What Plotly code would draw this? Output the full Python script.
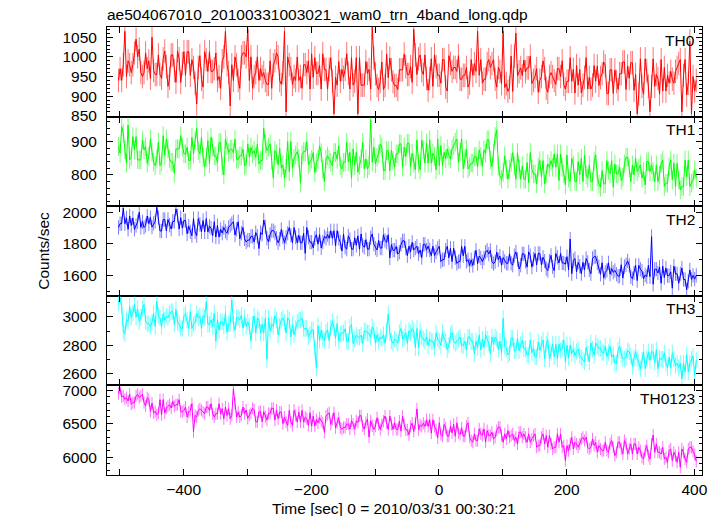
import numpy as np
import plotly.graph_objects as go
from plotly.subplots import make_subplots

# light-curve bins: start time and bin width (sec), 0 = 2010/03/31 00:30:21
t_start = -502.0
t_bin = 2.5

th0 = [940, 970, 940, 980, 1065, 950, 990, 980, 960, 980, 1010, 1045, 1000, 1020, 960, 950, 960, 1010, 970, 990,
       945, 1050, 965, 955, 955, 1005, 955, 945, 995, 1015, 975, 925, 945, 1005, 1005, 965, 935, 1015, 995, 935,
       983, 1013, 953, 1013, 1013, 953, 993, 973, 933, 880, 973, 1003, 943, 923, 1013, 993, 963, 1013, 963, 963,
       970, 1010, 940, 950, 920, 990, 1000, 1065, 980, 960, 875, 980, 940, 1000, 980, 940, 920, 1000, 1010, 1010,
       1000, 1070, 940, 1000, 920, 950, 960, 1000, 940, 970, 950, 960, 940, 930, 930, 990, 920, 980, 990, 1010,
       1000, 940, 930, 960, 1065, 860, 1000, 980, 970, 930, 950, 940, 1000, 940, 950, 920, 980, 980, 960, 990,
       918, 1008, 948, 998, 958, 958, 978, 918, 1008, 968, 968, 918, 968, 998, 938, 855, 948, 928, 988, 938,
       968, 948, 968, 1008, 958, 918, 998, 928, 938, 998, 855, 998, 928, 928, 928, 988, 958, 968, 918, 1075,
       997, 957, 927, 917, 937, 987, 917, 927, 1007, 947, 997, 967, 937, 927, 927, 917, 967, 967, 967, 1007,
       975, 955, 955, 975, 935, 1070, 1005, 955, 995, 1005, 965, 955, 1005, 945, 915, 945, 995, 925, 1005, 975,
       953, 953, 933, 993, 993, 923, 913, 1003, 983, 963, 973, 973, 963, 1003, 943, 943, 953, 953, 973, 923,
       933, 993, 953, 983, 963, 1065, 953, 993, 933, 943, 943, 983, 993, 973, 983, 993, 943, 923, 973, 963,
       932, 1065, 922, 932, 912, 922, 1002, 912, 1002, 1060, 952, 962, 972, 952, 992, 962, 972, 972, 1002, 932,
       940, 950, 970, 910, 940, 950, 990, 970, 920, 910, 950, 960, 950, 940, 930, 970, 970, 950, 990, 930,
       918, 938, 938, 998, 938, 968, 908, 978, 928, 968, 908, 928, 948, 998, 918, 948, 918, 928, 978, 938,
       977, 927, 947, 957, 987, 977, 907, 907, 967, 967, 907, 967, 937, 917, 957, 957, 987, 987, 917, 977,
       945, 985, 985, 915, 955, 855, 905, 995, 925, 905, 995, 965, 925, 860, 925, 995, 925, 955, 945, 905,
       993, 913, 973, 913, 953, 933, 963, 943, 933, 963, 973, 983, 993, 860, 953, 993, 903, 933, 1040, 855,
       950, 913, 940]

th1 = [885, 865, 945, 925, 875, 835, 950, 845, 855, 915, 875, 915, 845, 845, 845, 905, 875, 885, 835, 855,
       908, 868, 838, 828, 848, 898, 828, 838, 918, 858, 908, 878, 848, 838, 838, 805, 878, 878, 878, 918,
       883, 863, 863, 883, 843, 843, 913, 863, 903, 940, 873, 863, 913, 853, 823, 853, 903, 833, 913, 883,
       857, 857, 837, 897, 897, 827, 800, 907, 887, 867, 877, 877, 867, 907, 847, 847, 857, 857, 877, 827,
       833, 893, 853, 883, 863, 873, 853, 893, 833, 843, 843, 940, 893, 873, 883, 893, 843, 790, 873, 863,
       830, 880, 820, 830, 790, 820, 900, 810, 900, 820, 850, 860, 870, 850, 775, 860, 870, 870, 900, 830,
       837, 847, 867, 807, 837, 847, 887, 867, 817, 780, 847, 857, 847, 837, 827, 867, 867, 847, 887, 827,
       818, 838, 838, 898, 838, 868, 790, 878, 828, 868, 808, 828, 848, 898, 818, 848, 818, 828, 965, 838,
       883, 833, 853, 863, 893, 883, 813, 813, 873, 873, 813, 873, 843, 823, 863, 863, 893, 893, 823, 883,
       855, 895, 895, 825, 865, 835, 815, 905, 835, 815, 905, 875, 835, 895, 835, 905, 835, 865, 855, 815,
       908, 828, 888, 828, 868, 848, 878, 858, 848, 878, 888, 898, 908, 838, 868, 908, 818, 848, 878, 818,
       825, 835, 835, 855, 855, 825, 875, 855, 825, 875, 865, 905, 905, 845, 825, 865, 915, 935, 827, 797,
       787, 807, 857, 817, 787, 817, 837, 867, 827, 787, 867, 817, 787, 827, 787, 787, 837, 777, 867, 817,
       803, 803, 773, 823, 843, 793, 843, 773, 803, 833, 823, 843, 823, 863, 823, 863, 783, 863, 823, 803,
       770, 860, 790, 780, 850, 830, 780, 780, 840, 800, 850, 780, 860, 800, 790, 830, 780, 780, 840, 860,
       793, 773, 763, 813, 773, 773, 843, 813, 803, 843, 763, 833, 803, 803, 823, 783, 793, 833, 853, 853,
       820, 780, 830, 800, 850, 810, 820, 830, 790, 810, 770, 840, 840, 810, 830, 810, 780, 830, 780, 800,
       835, 845, 765, 775, 775, 825, 845, 785, 835, 765, 835, 785, 755, 765, 765, 845, 795, 845, 765, 775,
       785, 815, 790]

th2 = [1903, 1927, 1927, 2025, 1927, 1963, 1891, 1975, 1915, 1963, 1891, 1915, 1939, 1999, 1903, 1939, 1903, 1915, 1975, 1927,
       1965, 1905, 1929, 1941, 2030, 1965, 1881, 1881, 1953, 1953, 1881, 1953, 1917, 1893, 1941, 1941, 2020, 1977, 1893, 1965,
       1899, 1947, 1947, 1863, 1911, 1875, 1851, 1959, 1875, 1851, 1959, 1923, 1875, 1947, 1875, 1959, 1875, 1911, 1899, 1851,
       1939, 1843, 1915, 1843, 1891, 1867, 1903, 1879, 1867, 1903, 1915, 1927, 1939, 1855, 1891, 1939, 1831, 1867, 1903, 1831,
       1811, 1823, 1823, 1847, 1847, 1811, 1871, 1847, 1770, 1871, 1859, 1950, 1907, 1835, 1811, 1859, 1883, 1883, 1871, 1835,
       1806, 1830, 1890, 1842, 1806, 1842, 1866, 1902, 1854, 1806, 1902, 1842, 1806, 1854, 1806, 1806, 1866, 1740, 1902, 1842,
       1810, 1810, 1774, 1834, 1858, 1798, 1858, 1774, 1810, 1846, 1834, 1858, 1834, 1882, 1834, 1882, 1786, 1882, 1834, 1810,
       1754, 1862, 1778, 1766, 1850, 1826, 1766, 1766, 1838, 1790, 1850, 1766, 1862, 1790, 1778, 1826, 1766, 1766, 1838, 1862,
       1797, 1773, 1761, 1821, 1773, 1773, 1857, 1821, 1809, 1857, 1711, 1795, 1759, 1759, 1783, 1735, 1747, 1795, 1819, 1819,
       1773, 1725, 1785, 1749, 1809, 1761, 1773, 1785, 1737, 1761, 1713, 1797, 1797, 1761, 1785, 1761, 1725, 1785, 1725, 1749,
       1772, 1784, 1688, 1700, 1700, 1760, 1784, 1712, 1772, 1688, 1772, 1712, 1676, 1688, 1688, 1784, 1724, 1784, 1688, 1700,
       1663, 1699, 1663, 1711, 1759, 1675, 1723, 1711, 1687, 1711, 1747, 1759, 1735, 1759, 1687, 1675, 1687, 1747, 1699, 1723,
       1665, 1713, 1689, 1677, 1677, 1737, 1677, 1665, 1725, 1749, 1701, 1641, 1665, 1737, 1737, 1689, 1653, 1749, 1725, 1653,
       1703, 1739, 1667, 1739, 1739, 1667, 1715, 1691, 1643, 1631, 1691, 1727, 1655, 1631, 1739, 1715, 1679, 1739, 1679, 1679,
       1671, 1719, 1635, 1830, 1611, 1695, 1707, 1623, 1683, 1659, 1611, 1683, 1635, 1707, 1683, 1635, 1611, 1707, 1719, 1719,
       1680, 1656, 1608, 1680, 1584, 1620, 1632, 1680, 1608, 1644, 1620, 1632, 1608, 1596, 1596, 1668, 1584, 1656, 1668, 1692,
       1664, 1592, 1580, 1616, 1664, 1568, 1664, 1640, 1628, 1580, 1604, 1592, 1664, 1592, 1845, 1545, 1640, 1640, 1616, 1652,
       1551, 1659, 1587, 1647, 1599, 1599, 1623, 1520, 1659, 1611, 1611, 1551, 1611, 1647, 1575, 1575, 1510, 1563, 1635, 1575,
       1601, 1577, 1601]

th3 = [3100, 3140, 3080, 2900, 2880, 2983, 2968, 3073, 2998, 3028, 3088, 2998, 3058, 2968, 2998, 3058, 3088, 2968, 2953, 2953,
       2933, 2963, 3023, 2933, 3110, 3008, 2993, 2933, 3023, 2978, 3008, 2993, 3023, 3038, 3038, 2948, 3053, 2963, 2948, 2918,
       2918, 3008, 3023, 2978, 2918, 3038, 2918, 2948, 2963, 3023, 2993, 3008, 2918, 3008, 2993, 3110, 2948, 2948, 2978, 2933,
       3026, 2830, 2981, 2906, 2966, 2966, 2936, 3026, 2891, 2951, 2951, 3120, 2951, 2906, 2996, 2996, 2981, 3011, 2921, 2996,
       2933, 2963, 2933, 2830, 2948, 3008, 2888, 2993, 2978, 2888, 2948, 2888, 2993, 2700, 2993, 2903, 2948, 2933, 3008, 2978,
       2873, 2933, 2978, 2993, 2963, 2888, 2993, 2978, 2858, 2948, 2873, 2918, 2963, 2978, 2978, 2993, 2918, 2918, 2918, 2858,
       2878, 2908, 2908, 2780, 2640, 2938, 2833, 2908, 2848, 2833, 2893, 2908, 2833, 2923, 2968, 2923, 2848, 2953, 2833, 2878,
       2886, 2886, 2916, 2826, 2826, 2931, 2946, 2811, 2841, 2871, 2856, 2856, 2871, 2811, 2901, 2901, 2886, 2886, 2856, 2931,
       2904, 2814, 2874, 2829, 2859, 2844, 2874, 2814, 2904, 3020, 2889, 2829, 2814, 2844, 2829, 2814, 2889, 2919, 2844, 2859,
       2888, 2813, 2903, 2888, 2918, 2903, 2783, 2918, 2783, 2903, 2858, 2843, 2828, 2858, 2798, 2843, 2828, 2828, 2783, 2888,
       2843, 2828, 2798, 2888, 2843, 2828, 2768, 2798, 2873, 2888, 2828, 2813, 2828, 2843, 2858, 2798, 2798, 2828, 2768, 2858,
       2858, 2828, 2828, 2738, 2828, 2783, 2873, 2768, 2843, 2783, 2873, 2843, 2813, 2738, 2858, 2813, 2858, 2843, 2768, 2828,
       2746, 2990, 2791, 2776, 2731, 2746, 2851, 2851, 2761, 2761, 2851, 2761, 2806, 2836, 2776, 2776, 2731, 2731, 2836, 2746,
       2778, 2718, 2718, 2823, 2763, 2808, 2838, 2703, 2808, 2838, 2703, 2748, 2808, 2718, 2808, 2703, 2808, 2763, 2778, 2838,
       2681, 2801, 2711, 2801, 2741, 2771, 2726, 2756, 2771, 2726, 2711, 2696, 2681, 2786, 2741, 2681, 2816, 2771, 2726, 2816,
       2793, 2778, 2778, 2748, 2748, 2793, 2718, 2748, 2793, 2718, 2733, 2673, 2673, 2763, 2793, 2733, 2703, 2703, 2718, 2763,
       2753, 2723, 2648, 2708, 2753, 2708, 2678, 2633, 2693, 2753, 2633, 2708, 2753, 2693, 2753, 2753, 2678, 2768, 2633, 2708,
       2701, 2701, 2746, 2671, 2641, 2716, 2641, 2746, 2701, 2656, 2671, 2641, 2671, 2560, 2671, 2611, 2731, 2611, 2671, 2701,
       2723, 2588, 2693]

th0123 = [6950, 7020, 6900, 6913, 6863, 6888, 6838, 6938, 6788, 6813, 6813, 6913, 6938, 6888, 6913, 6938, 6813, 6763, 6888, 6863,
          6683, 6808, 6658, 6683, 6633, 6658, 6858, 6633, 6858, 6658, 6733, 6758, 6783, 6733, 6833, 6758, 6783, 6783, 6858, 6683,
          6673, 6698, 6748, 6598, 6673, 6698, 6798, 6380, 6623, 6598, 6698, 6723, 6698, 6673, 6648, 6748, 6748, 6698, 6798, 6648,
          6598, 6648, 6648, 6798, 6648, 6723, 6573, 6748, 6623, 6723, 6573, 6623, 7020, 6798, 6598, 6673, 6598, 6623, 6748, 6648,
          6703, 6578, 6628, 6653, 6728, 6703, 6528, 6528, 6678, 6678, 6528, 6678, 6603, 6553, 6653, 6653, 6728, 6728, 6553, 6703,
          6573, 6673, 6673, 6498, 6598, 6523, 6473, 6698, 6523, 6473, 6698, 6623, 6523, 6673, 6523, 6698, 6523, 6598, 6573, 6473,
          6663, 6463, 6613, 6463, 6563, 6513, 6588, 6538, 6513, 6370, 6613, 6638, 6663, 6488, 6563, 6663, 6438, 6513, 6588, 6438,
          6418, 6443, 6443, 6493, 6493, 6418, 6543, 6493, 6418, 6543, 6518, 6618, 6618, 6468, 6418, 6518, 6568, 6300, 6543, 6468,
          6413, 6463, 6588, 6488, 6413, 6488, 6538, 6613, 6513, 6413, 6613, 6488, 6413, 6513, 6413, 6413, 6538, 6388, 6613, 6488,
          6408, 6408, 6333, 6458, 6508, 6383, 6508, 6720, 6408, 6483, 6458, 6508, 6458, 6558, 6458, 6558, 6358, 6558, 6458, 6408,
          6288, 6513, 6338, 6313, 6488, 6438, 6313, 6313, 6463, 6363, 6488, 6313, 6513, 6363, 6338, 6438, 6313, 6313, 6463, 6513,
          6298, 6248, 6223, 6348, 6248, 6248, 6423, 6348, 6323, 6423, 6223, 6398, 6323, 6323, 6373, 6273, 6298, 6398, 6448, 6448,
          6323, 6223, 6348, 6273, 6398, 6298, 6323, 6348, 6248, 6298, 6198, 6373, 6373, 6298, 6348, 6298, 6223, 6348, 6223, 6273,
          6323, 6348, 6148, 6173, 6173, 6298, 6348, 6198, 6323, 6148, 6323, 6198, 6123, 6148, 6148, 6348, 6223, 6348, 6148, 6173,
          5950, 6173, 6098, 6198, 6298, 6123, 6223, 6198, 6148, 6198, 6273, 6298, 6248, 6298, 6148, 6123, 6148, 6273, 6173, 6223,
          6073, 6173, 6123, 6098, 6098, 6223, 6098, 6073, 6198, 6248, 6148, 6023, 6073, 6223, 6223, 6123, 6048, 6248, 6198, 6048,
          6123, 6198, 6048, 6198, 6198, 6048, 6148, 6098, 5998, 5973, 6098, 6173, 6023, 5973, 6198, 6330, 6073, 6198, 6073, 6073,
          6048, 6148, 5973, 5998, 5923, 6098, 6123, 5948, 6073, 6023, 5923, 6073, 5850, 6123, 6073, 5973, 5923, 6123, 6148, 6148,
          6088, 6038, 5938]

series = [th0, th1, th2, th3, th0123]
names = ["TH0", "TH1", "TH2", "TH3", "TH0123"]
errors = [30, 28, 45, 58, 90]
colors = ["#ff0000", "#00ff00", "#0000ff", "#00ffff", "#ff00ff"]
err_colors = ["rgba(255,0,0,0.55)", "rgba(0,255,0,0.55)", "rgba(0,0,255,0.5)",
              "rgba(0,255,255,0.55)", "rgba(255,0,255,0.55)"]
y_ranges = [[848, 1076], [706, 975], [1472, 2037], [2515, 3150], [5735, 7070]]
y_dticks = [50, 100, 200, 200, 500]
y_minor = [10, 20, 100, 100, 100]

x_ticks = [-500, -400, -300, -200, -100, 0, 100, 200, 300, 400]
x_labels = ["", "\u2212400", "", "\u2212200", "", "0", "", "200", "", "400"]

FONT = "Liberation Sans, Arial, Helvetica, sans-serif"
FS = 15.5

fig = make_subplots(rows=5, cols=1, shared_xaxes=True, vertical_spacing=0)

for i, (vals, nm) in enumerate(zip(series, names)):
    tt = t_start + t_bin * np.arange(len(vals))
    fig.add_trace(go.Scatter(
        x=tt, y=vals, mode="lines", name=nm,
        line=dict(color=colors[i], width=1),
        error_y=dict(type="constant", value=errors[i], color=err_colors[i],
                     thickness=1, width=0),
        showlegend=False,
    ), row=i + 1, col=1)
    fig.update_yaxes(range=y_ranges[i], dtick=y_dticks[i], row=i + 1, col=1)
    fig.update_yaxes(minor=dict(dtick=y_minor[i], ticks="inside", ticklen=3,
                                tickcolor="black"), row=i + 1, col=1)
    fig.add_annotation(text=nm, xref="x domain", yref="y domain",
                       x=0.992, y=0.97, xanchor="right", yanchor="top",
                       showarrow=False, font=dict(size=FS, color="black", family=FONT),
                       row=i + 1, col=1)

fig.update_xaxes(range=[-520, 412], tickvals=x_ticks, ticktext=x_labels,
                 ticks="inside", ticklen=6, tickcolor="black",
                 showline=True, linecolor="black", linewidth=1, mirror="allticks",
                 showgrid=False, zeroline=False,
                 tickfont=dict(size=FS, color="black", family=FONT))
fig.update_yaxes(ticks="inside", ticklen=6, tickcolor="black",
                 showline=True, linecolor="black", linewidth=1, mirror="allticks",
                 showgrid=False, zeroline=False, ticklabelstandoff=6,
                 tickfont=dict(size=FS, color="black", family=FONT))

fig.add_annotation(text="ae504067010_20100331003021_wam0_trn_4band_long.qdp",
                   xref="paper", yref="paper", x=-0.003, y=1.0, yshift=13,
                   xanchor="left", yanchor="middle", showarrow=False,
                   font=dict(size=FS, color="black", family=FONT))
fig.add_annotation(text="Counts/sec", xref="paper", yref="paper",
                   x=-0.108, y=0.5, textangle=-90, xanchor="center", yanchor="middle",
                   showarrow=False, font=dict(size=FS, color="black", family=FONT))
fig.add_annotation(text="Time [sec] 0 = 2010/03/31 00:30:21", xref="paper", yref="paper",
                   x=0.4825, y=-0.074, xanchor="center", yanchor="middle",
                   showarrow=False, font=dict(size=FS, color="black", family=FONT))

fig.update_layout(width=719, height=516,
                  margin=dict(l=107, r=11, t=27, b=41),
                  plot_bgcolor="white", paper_bgcolor="white")

fig.write_html("out.html", config={"displayModeBar": False},
               post_script="document.body.style.margin='0';document.body.style.overflow='hidden';")
